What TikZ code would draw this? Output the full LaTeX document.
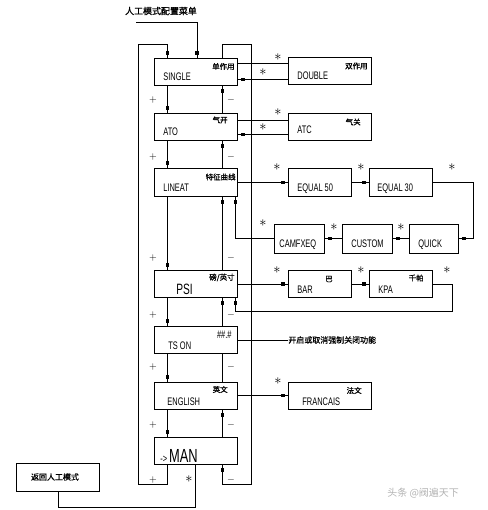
\documentclass[tikz,border=0pt]{standalone}
\usepackage{fontspec}
\setmainfont{Liberation Sans}
\newfontfamily\cad[FakeStretch=0.68]{Liberation Sans}
\newfontfamily\cjk[FakeBold=1.2]{Noto Sans CJK SC}
\newfontfamily\cjkthin{Noto Sans CJK SC}
\usetikzlibrary{decorations.markings}

\begin{document}
\begin{tikzpicture}[x=1bp,y=-1bp,line width=0.8bp,
    menubox/.style={draw,line width=1bp,inner sep=0,minimum width=83bp,minimum height=27bp},
    entxt/.style={font=\cad\fontsize{11}{11}\selectfont,inner sep=0,anchor=base west},
    cntxt/.style={font=\cjk\fontsize{7.5}{8}\selectfont,inner sep=0,anchor=east},
    keylbl/.style={font=\fontsize{14}{14}\selectfont,inner sep=0},
    pm/.style={font=\fontsize{10}{10}\selectfont,inner sep=0},
    mk/.style={postaction={decorate,decoration={markings,
        mark=at position -5bp with {\fill (-2bp,-1.6bp) rectangle (2bp,1.6bp);}}}}]
    \useasboundingbox (0,0) rectangle (488,510);
    % 左列菜单
    \node[menubox] (single) at (195.5,72) {};
    \node[menubox] (ato) at (195.5,127) {};
    \node[menubox] (lineat) at (195.5,182.5) {};
    \node[menubox] (psi) at (195.5,284) {};
    \node[menubox] (tson) at (195.5,340) {};
    \node[menubox] (english) at (195.5,395.5) {};
    \node[menubox] (man) at (195.5,451) {};
    \node[menubox,minimum height=28bp] (back) at (58,477) {};
    % 右侧选项
    \node[menubox] (double) at (329.5,71.5) {};
    \node[menubox] (atc) at (329.5,127.5) {};
    \node[menubox,minimum width=63bp] (equalA) at (319.5,182.5) {};
    \node[menubox,minimum width=63bp] (equalB) at (400.5,182.5) {};
    \node[menubox,minimum width=49bp,minimum height=29bp] (quick) at (433.5,238.5) {};
    \node[menubox,minimum width=50bp,minimum height=29bp] (custom) at (367,238.5) {};
    \node[menubox,minimum width=50bp,minimum height=29bp] (camfxeq) at (299,238.5) {};
    \node[menubox,minimum width=63bp] (bar) at (319.5,284) {};
    \node[menubox,minimum width=63bp] (kpa) at (400.5,284) {};
    \node[menubox] (francais) at (329.5,395.5) {};
    % 英文名称
    \node[entxt] (single-en) at (163,81) {SINGLE};
    \node[entxt] (ato-en) at (163,136) {ATO};
    \node[entxt] (lineat-en) at (163,192) {LINEAT};
    \node[entxt,font=\cad\fontsize{15}{15}\selectfont] (psi-en) at (176,294) {PSI};
    \node[entxt] (tson-en) at (168,349) {TS ON};
    \node[entxt] (english-en) at (167,405) {ENGLISH};
    \node[entxt] (man-en) at (160,462) {->\,{\fontsize{19}{19}\selectfont MAN}};
    \node[entxt] (double-en) at (297,80) {DOUBLE};
    \node[entxt] (atc-en) at (297,134) {ATC};
    \node[entxt] (equalA-en) at (297,192) {EQUAL 50};
    \node[entxt] (equalB-en) at (377,192) {EQUAL 30};
    \node[entxt] (camfxeq-en) at (279,247) {CAMFXEQ};
    \node[entxt] (custom-en) at (351,247) {CUSTOM};
    \node[entxt] (quick-en) at (418,247) {QUICK};
    \node[entxt] (bar-en) at (297,293) {BAR};
    \node[entxt] (kpa-en) at (378,293) {KPA};
    \node[entxt] (francais-en) at (302,405) {FRANCAIS};
    % 中文名称
    \node[cntxt] (single-cn) at (235,66.5) {单作用};
    \node[cntxt] (ato-cn) at (228,120) {气开};
    \node[cntxt] (lineat-cn) at (236,177) {特征曲线};
    \node[cntxt] (psi-cn) at (235,277.5) {磅/英寸};
    \node[cntxt,font=\cad\fontsize{11}{11}\selectfont] (tson-cn) at (232,335) {\#\#.\#};
    \node[cntxt] (english-cn) at (228,389.5) {英文};
    \node[cntxt] (double-cn) at (368,66) {双作用};
    \node[cntxt] (atc-cn) at (361,122) {气关};
    \node[cntxt] (bar-cn) at (333,279) {巴};
    \node[cntxt] (kpa-cn) at (424,278) {千帕};
    \node[cntxt] (francais-cn) at (362,390.5) {法文};
    \node[cntxt,anchor=center,font=\cjk\fontsize{9}{9}\selectfont] (title) at (161,11) {人工模式配置菜单};
    \node[cntxt,anchor=center,font=\cjk\fontsize{8}{8}\selectfont] (back-cn) at (55,477) {返回人工模式};
    \node[cntxt,anchor=west,font=\cjk\fontsize{8}{8}\selectfont] (tsdesc) at (288,340) {开启或取消强制关闭功能};
    \node[inner sep=0,anchor=west,text=gray!60,font=\cjkthin\fontsize{10}{10}\selectfont] (wm) at (387,493) {头条 @阀遍天下};
    % 进入菜单
    \coordinate (ttl) at (136,22);
    \draw[mk] (ttl) -| ([xshift=1.5bp]single.north);
    % 加减键
    \foreach \a/\b in {single/ato,ato/lineat,lineat/psi,psi/tson,tson/english,english/man}
        \draw[mk] ([xshift=14bp]\a.south west) -- ([xshift=14bp]\b.north west);
    \foreach \a/\b in {single/ato,ato/lineat,lineat/psi,psi/tson,english/man}
        \draw[mk] ([xshift=69bp]\b.north west) -- ([xshift=69bp]\a.south west);
    \draw ([xshift=69bp]english.north west) -- ([xshift=69bp]tson.south west);
    \draw[mk] ([xshift=14bp]man.south west) -- ++(0,19) -- ++(-29,0)
        |- ([xshift=14bp,yshift=14bp]single.north west) -- ([xshift=14bp]single.north west);
    \draw[mk] ([xshift=69bp]single.north west) -- ++(0,-14) -- ++(29,0)
        |- ([xshift=69bp,yshift=-19bp]man.south west) -- ([xshift=69bp]man.south west);
    \foreach \y [count=\i] in {100,157,258,315,367,425,480}{
        \node[pm] (plus\i) at (153,\y) {$+$};
        \node[pm] (minus\i) at (231,\y) {$-$};
    }
    % 星号键
    \coordinate (sd1) at ([yshift=-5bp]single.north east);
    \coordinate (sd2) at ([yshift=6bp]double.south west);
    \draw (sd1) -- (sd1 -| double.west);
    \draw[mk] (sd2) -- (sd2 -| single.east);
    \coordinate (aa1) at ([yshift=-7bp]ato.north east);
    \coordinate (aa2) at ([yshift=7bp]atc.south west);
    \draw (aa1) -- (aa1 -| atc.west);
    \draw[mk] (aa2) -- (aa2 -| ato.east);
    \draw[mk] (lineat.east) -- (equalA.west);
    \draw[mk] (equalA.east) -- (equalB.west);
    \draw[mk] (equalB.east) -- ++(41,0) |- (quick.east);
    \draw[mk] (quick.west) -- (custom.east);
    \draw[mk] (custom.west) -- (camfxeq.east);
    \draw[mk] (camfxeq.west) -| ([xshift=-2bp]lineat.south east);
    \draw[mk] (psi.east) -- (bar.west);
    \draw[mk] (bar.east) -- (kpa.west);
    \draw[mk] (kpa.east) -- ++(20,0) -- ++(0,27) -| ([xshift=-2bp]psi.south east);
    \draw (tson.east) -- (tsdesc.west);
    \draw[mk] (english.east) -- (francais.west);
    \draw ([xshift=42bp]man.south west) -- ++(0,42) -| (back.south);
    \foreach \p [count=\i] in {(278,57),(263,72),(278,112),(263,127),(277,167),(361,167),(452,167),(401,227),(334,227),(263,223),(277,270),(361,270),(447,270),(278,381),(189,479)}
        \node[keylbl] (key\i) at \p {$\ast$};
\end{tikzpicture}
\end{document}
